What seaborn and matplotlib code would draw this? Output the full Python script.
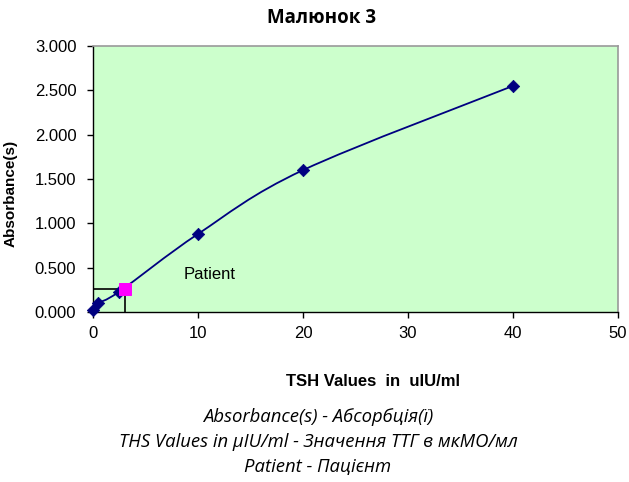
import numpy as np
import pandas as pd
import seaborn as sns
import matplotlib.pyplot as plt
from matplotlib.path import Path
from matplotlib.patches import PathPatch
from matplotlib.ticker import FormatStrFormatter

# standards
tsh = [0, 0.5, 2.5, 10, 20, 40]
absorbance = [0.02, 0.10, 0.23, 0.88, 1.60, 2.55]
# patient
patient_tsh = 3.0
patient_abs = 0.26

sns.set_style("white")
plt.rcParams['font.family'] = ['Liberation Sans', 'DejaVu Sans']
plt.rcParams['text.color'] = 'black'

fig = plt.figure(figsize=(6.29, 4.82), dpi=100)
ax = fig.add_axes([93 / 629, 1 - 312 / 482, 525 / 629, 266 / 482])
ax.set_facecolor('#CCFFCC')

# smoothed line (catmull-rom -> bezier, like excel)
pts = np.column_stack([tsh, absorbance])
verts = [tuple(pts[0])]
codes = [Path.MOVETO]
for i in range(len(pts) - 1):
    p0 = pts[i - 1] if i > 0 else pts[i]
    p1, p2 = pts[i], pts[i + 1]
    p3 = pts[i + 2] if i + 2 < len(pts) else pts[i + 1]
    c1 = p1 + (p2 - p0) / 6
    c2 = p2 - (p3 - p1) / 6
    verts += [tuple(c1), tuple(c2), tuple(p2)]
    codes += [Path.CURVE4] * 3
ax.add_patch(PathPatch(Path(verts, codes), fill=False, edgecolor='#000080', lw=1.3, zorder=2))

df = pd.DataFrame({'TSH': tsh, 'Abs': absorbance})
sns.scatterplot(data=df, x='TSH', y='Abs', marker='D', s=40, color='#000080',
                edgecolor='#000080', ax=ax, zorder=3, clip_on=False)

ax.plot([0, patient_tsh], [patient_abs, patient_abs], color='black', lw=1.2, zorder=2)
ax.plot([patient_tsh, patient_tsh], [0, patient_abs], color='black', lw=1.2, zorder=2)
sns.scatterplot(x=[patient_tsh], y=[patient_abs], marker='s', s=75, color='#FF00FF',
                edgecolor='#FF00FF', ax=ax, zorder=4, clip_on=False)
ax.text(8.67, 0.372, 'Patient', fontsize=12, va='baseline', ha='left', color='black')

ax.set_xlim(0, 50)
ax.set_ylim(0, 3)
ax.set_xticks([0, 10, 20, 30, 40, 50])
ax.set_yticks(np.arange(0, 3.01, 0.5))
ax.yaxis.set_major_formatter(FormatStrFormatter('%.3f'))
ax.tick_params(axis='both', direction='out', length=4, width=1, labelsize=12,
               bottom=True, left=True, colors='black')
ax.tick_params(axis='x', pad=6)
ax.tick_params(axis='y', pad=8)
for s in ['top', 'right']:
    ax.spines[s].set_color('#999999')
    ax.spines[s].set_linewidth(1.2)
for s in ['left', 'bottom']:
    ax.spines[s].set_color('black')
    ax.spines[s].set_linewidth(1)
ax.set_xlabel('')
ax.set_ylabel('Absorbance(s)', fontsize=11, fontweight='bold', color='black')
ax.yaxis.set_label_coords(-(93 - 18) / 525, (312 - 193) / 266)

fig.text(322 / 629, 1 - 18 / 482, 'Малюнок 3', fontsize=13.5, fontweight='bold',
         ha='center', va='center', family=['Open Sans', 'DejaVu Sans'])
fig.text(373 / 629, 1 - 382 / 482, 'TSH Values  in  uIU/ml', fontsize=12,
         fontweight='bold', ha='center', va='center')

notes = ['Absorbance(s) - Абсорбція(ї)',
         'THS Values in μIU/ml - Значення ТТГ в мкМО/мл',
         'Patient - Пацієнт']
for i, line in enumerate(notes):
    fig.text(318 / 629, 1 - (417 + 25 * i) / 482, line, fontsize=13.3, style='italic',
             ha='center', va='center', family=['Open Sans', 'DejaVu Sans'])

fig.savefig('out.png', dpi=100)
